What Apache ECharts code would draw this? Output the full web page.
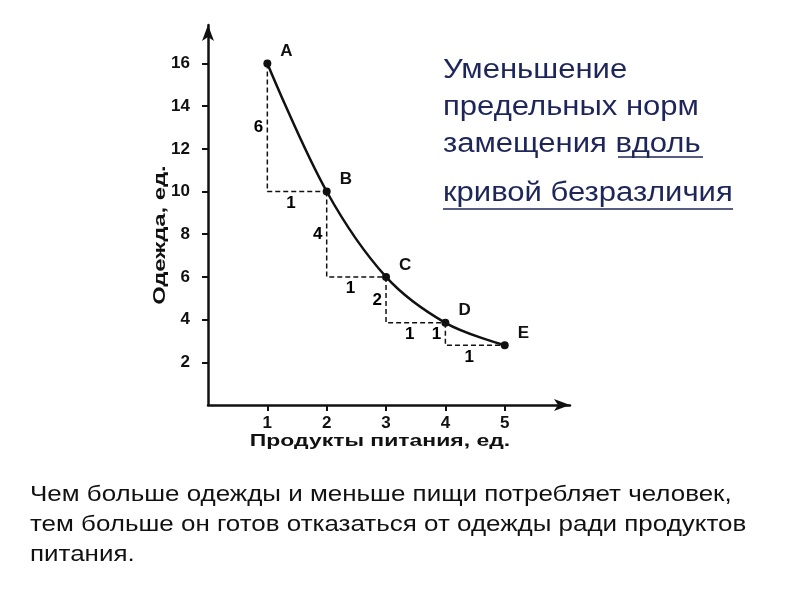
<!DOCTYPE html>
<html><head><meta charset="utf-8">
<script src="https://cdn.jsdelivr.net/npm/echarts@6/dist/echarts.min.js"></script>
<style>html,body{margin:0;background:#fff}#c{width:800px;height:600px}</style>
</head><body><div id="c"></div>
<script>
const xs = [1, 2, 3, 4, 5];
const ys = [16, 10, 6, 3.85, 2.8];
const pointNames = ['A', 'B', 'C', 'D', 'E'];
const dy = ['6', '4', '2', '1'];
const dx = ['1', '1', '1', '1'];
const yTicks = [2, 4, 6, 8, 10, 12, 14, 16];
const xTicks = [1, 2, 3, 4, 5];

const chart = echarts.init(document.getElementById('c'));
const curve = xs.map((x, i) => [x, ys[i]]);
const steps = [];
const labels = [];
for (let i = 0; i < xs.length - 1; i++) {
  steps.push([xs[i], ys[i]], [xs[i], ys[i + 1]], [xs[i + 1], ys[i + 1]], [null, null]);
  labels.push({ value: [xs[i] - 0.15, (ys[i] + ys[i + 1]) / 2], t: dy[i] });
  labels.push({ value: [(xs[i] + xs[i + 1]) / 2 - 0.1, ys[i + 1] - 0.55], t: dx[i] });
}
const bold = { fontFamily: 'Liberation Sans', fontWeight: 'bold', color: '#111', fontSize: 17 };
chart.setOption({
  animation: false,
  grid: { left: 208, top: 25, right: 230, bottom: 195 },
  xAxis: {
    type: 'value', min: 0, max: 6.1,
    axisLine: { lineStyle: { color: '#111', width: 2.5 }, symbol: ['none', 'arrow'], symbolSize: [9, 16] },
    axisTick: { customValues: xTicks, length: 6, lineStyle: { color: '#111', width: 2 } },
    axisLabel: { customValues: xTicks, ...bold, margin: 10 },
    splitLine: { show: false }
  },
  yAxis: {
    type: 'value', min: 0, max: 17.8,
    axisLine: { lineStyle: { color: '#111', width: 2.5 }, symbol: ['none', 'arrow'], symbolSize: [9, 16] },
    axisTick: { customValues: yTicks, length: 6, lineStyle: { color: '#111', width: 2 } },
    axisLabel: { customValues: yTicks, ...bold, margin: 18 },
    splitLine: { show: false }
  },
  series: [
    { type: 'line', data: steps, connectNulls: false, symbol: 'none',
      lineStyle: { color: '#111', width: 1.5, type: [5, 3] } },
    { type: 'line', data: curve, smooth: 0.35, symbol: 'circle', symbolSize: 8,
      itemStyle: { color: '#111' }, lineStyle: { color: '#111', width: 2.5 },
      label: { show: true, position: 'right', offset: [4, -12], formatter: p => pointNames[p.dataIndex], ...bold } },
    { type: 'scatter', data: labels, symbolSize: 1, itemStyle: { color: '#fff', opacity: 1 },
      label: { show: true, position: 'top', distance: -9, formatter: p => p.data.t, ...bold, color: '#000', opacity: 1 } }
  ],
  graphic: [
    { type: 'text', x: 380, y: 441, scaleX: 1.35, style: { text: 'Продукты питания, ед.', font: 'bold 17px "Liberation Sans"', fill: '#111', align: 'center', verticalAlign: 'middle' } },
    { type: 'text', x: 160, y: 235, rotation: Math.PI / 2, scaleX: 1.4, style: { text: 'Одежда, ед.', font: 'bold 17px "Liberation Sans"', fill: '#111', align: 'center', verticalAlign: 'middle' } },
    { type: 'text', x: 443, y: 52, scaleX: 1.15, style: { text: 'Уменьшение\nпредельных норм\nзамещения вдоль', font: '27px "Liberation Sans"', fill: '#1e2659', lineHeight: 37 } },
    { type: 'text', x: 443, y: 180, scaleX: 1.15, style: { text: 'кривой безразличия', font: '27px "Liberation Sans"', fill: '#1e2659' } },
    { type: 'line', shape: { x1: 618, y1: 157, x2: 703, y2: 157 }, style: { stroke: '#1e2659', lineWidth: 1.5 } },
    { type: 'line', shape: { x1: 443, y1: 209, x2: 733, y2: 209 }, style: { stroke: '#1e2659', lineWidth: 1.5 } },
    { type: 'text', x: 30, y: 480, scaleX: 1.18, style: { text: 'Чем больше одежды и меньше пищи потребляет человек,\nтем больше он готов отказаться от одежды ради продуктов\nпитания.', font: '22px "Liberation Sans"', fill: '#111', lineHeight: 30 } }
  ]
});
</script></body></html>
